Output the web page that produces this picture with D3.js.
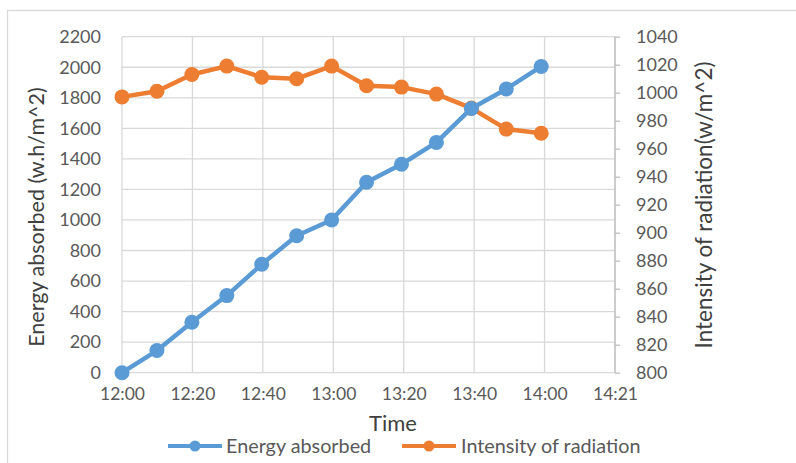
<!DOCTYPE html>
<html>
<head>
<meta charset="utf-8">
<script src="https://cdn.jsdelivr.net/npm/d3@7"></script>
<style>
  html, body { margin: 0; padding: 0; background: #fff; }
  svg { display: block; }
  text { font-family: Lato, "Open Sans", sans-serif; }
</style>
</head>
<body>
<svg id="chart" width="796" height="463"></svg>
<script>
// Measurement times (every 10 minutes)
const times = ["12:00", "12:10", "12:20", "12:30", "12:40", "12:50", "13:00",
               "13:10", "13:20", "13:30", "13:40", "13:50", "14:00"];
// Cumulative energy absorbed (w.h/m^2), left axis
const energyAbsorbed = [0, 145, 330, 505, 710, 897, 1000, 1247, 1365, 1508, 1730, 1858, 2005];
// Intensity of radiation (w/m^2), right axis
const radiationIntensity = [997, 1001, 1013, 1019, 1011, 1010, 1019, 1005, 1004, 999, 989, 974, 971];

// Axis ticks
const leftTicks = [0, 200, 400, 600, 800, 1000, 1200, 1400, 1600, 1800, 2000, 2200];
const rightTicks = [800, 820, 840, 860, 880, 900, 920, 940, 960, 980, 1000, 1020, 1040];
const xTickLabels = ["12:00", "12:20", "12:40", "13:00", "13:20", "13:40", "14:00", "14:21"];
const xMajorUnitDays = 0.014;   // time-axis major unit, in days

const seriesNames = ["Energy absorbed", "Intensity of radiation"];
const colors = ["#5B9BD5", "#ED7D31"];

const toMinutes = t => { const [h, m] = t.split(":").map(Number); return (h - 12) * 60 + m; };
const xTickValues = xTickLabels.map((d, i) => i * xMajorUnitDays * 1440);

const svg = d3.select("#chart");
const plot = { left: 122, right: 615, top: 36.7, bottom: 372.7 };

const x = d3.scaleLinear().domain([0, xTickValues[xTickValues.length - 1]]).range([plot.left, plot.right]);
const yL = d3.scaleLinear().domain([0, 2200]).range([plot.bottom, plot.top]);
const yR = d3.scaleLinear().domain([800, 1040]).range([plot.bottom, plot.top]);
const plain = d3.format("d");

// Chart frame
svg.append("rect")
  .attr("x", 7.5).attr("y", 10.5).attr("width", 820).attr("height", 480)
  .attr("fill", "#fff").attr("stroke", "#d9d9d9").attr("stroke-width", 1.3);

// Gridlines
const grid = svg.append("g").attr("stroke", "#d9d9d9").attr("stroke-width", 1.3);
grid.selectAll("line.h").data(leftTicks).join("line")
  .attr("x1", plot.left).attr("x2", plot.right)
  .attr("y1", d => yL(d)).attr("y2", d => yL(d));
grid.selectAll("line.v").data(xTickValues).join("line")
  .attr("y1", plot.top).attr("y2", plot.bottom)
  .attr("x1", d => x(d)).attr("x2", d => x(d));

// Left axis labels
const axL = svg.append("g").attr("transform", `translate(${plot.left},0)`)
  .call(d3.axisLeft(yL).tickValues(leftTicks).tickFormat(plain).tickSize(0).tickPadding(21));
axL.select(".domain").remove();
axL.selectAll("text").attr("font-size", 18).attr("fill", "#595959").attr("font-family", "Lato, sans-serif");

// Right axis with outward ticks
const axR = svg.append("g").attr("transform", `translate(${plot.right},0)`)
  .call(d3.axisRight(yR).tickValues(rightTicks).tickFormat(plain).tickSize(5).tickPadding(16));
axR.select(".domain").attr("stroke", "#bfbfbf").attr("stroke-width", 1.3).attr("d", `M0,${plot.top}V${plot.bottom}`);
axR.selectAll(".tick line").attr("stroke", "#bfbfbf").attr("stroke-width", 1.3);
axR.selectAll("text").attr("font-size", 18).attr("fill", "#595959").attr("font-family", "Lato, sans-serif");

// Bottom time axis labels
const axB = svg.append("g").attr("transform", `translate(0,${plot.bottom})`)
  .call(d3.axisBottom(x).tickValues(xTickValues).tickSize(0).tickPadding(15)
    .tickFormat((d, i) => xTickLabels[i]));
axB.select(".domain").remove();
axB.selectAll("text").attr("font-size", 17.5).attr("fill", "#595959").attr("font-family", "Lato, sans-serif");

// Axis titles
svg.append("text").attr("x", 393).attr("y", 431).attr("text-anchor", "middle")
  .attr("font-size", 22).attr("fill", "#404040").text("Time");
svg.append("text").attr("transform", "translate(44,217) rotate(-90)").attr("text-anchor", "middle")
  .attr("font-size", 21.5).attr("fill", "#404040").text("Energy absorbed (w.h/m^2)");
svg.append("text").attr("transform", "translate(712,205) rotate(-90)").attr("text-anchor", "middle")
  .attr("font-size", 22.5).attr("fill", "#404040").text("Intensity of radiation(w/m^2)");

// Series
const series = [
  { name: seriesNames[0], values: energyAbsorbed, y: yL, color: colors[0] },
  { name: seriesNames[1], values: radiationIntensity, y: yR, color: colors[1] }
];
series.slice().reverse().forEach(s => {
  const pts = times.map((t, i) => [x(toMinutes(t)), s.y(s.values[i])]);
  const g = svg.append("g");
  g.append("path").attr("d", d3.line()(pts)).attr("fill", "none")
    .attr("stroke", s.color).attr("stroke-width", 4.5).attr("stroke-linejoin", "round");
  g.selectAll("circle").data(pts).join("circle")
    .attr("cx", d => d[0]).attr("cy", d => d[1]).attr("r", 7.5).attr("fill", s.color);
});

// Legend
const legend = svg.append("g");
const legendItems = [{ x: 168, tx: 226 }, { x: 402, tx: 461 }];
series.forEach((s, i) => {
  const it = legendItems[i];
  const g = legend.append("g").attr("transform", `translate(${it.x},446)`);
  g.append("line").attr("x1", 0).attr("x2", 54).attr("stroke", s.color).attr("stroke-width", 4);
  g.append("circle").attr("cx", 27).attr("r", 5.5).attr("fill", s.color);
  legend.append("text").attr("x", it.tx).attr("y", 446).attr("dy", "0.35em")
    .attr("font-size", 19.8).attr("fill", "#595959").text(s.name);
});
</script>
</body>
</html>
